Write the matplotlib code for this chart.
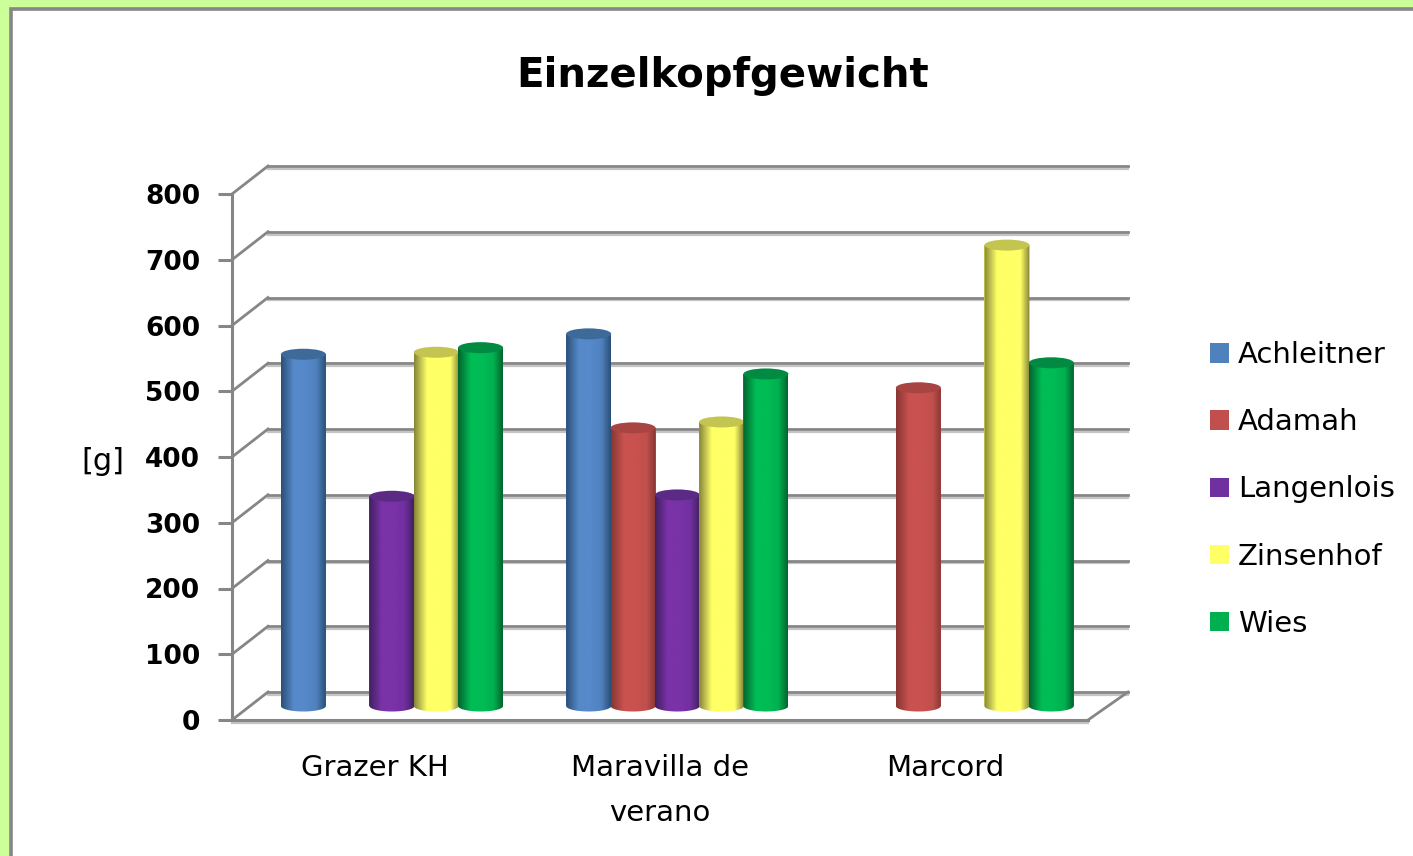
import numpy as np
import matplotlib
matplotlib.use("Agg")
import matplotlib.pyplot as plt
from matplotlib.colors import LinearSegmentedColormap
from matplotlib.patches import Ellipse, Polygon, Patch, Rectangle

# ---- data ----
categories = ["Grazer KH", "Maravilla de\nverano", "Marcord"]
series_names = ["Achleitner", "Adamah", "Langenlois", "Zinsenhof", "Wies"]
achleitner = [535, 566, np.nan]
adamah = [np.nan, 423, 484]
langenlois = [319, 321, np.nan]
zinsenhof = [538, 432, 701]
wies = [545, 505, 522]
y_ticks = [0, 100, 200, 300, 400, 500, 600, 700, 800]

series = [achleitner, adamah, langenlois, zinsenhof, wies]
legend_colors = ["#4F81BD", "#C0504D", "#7030A0", "#FFFF66", "#00B050"]
edge_colors = ["#2B5078", "#873634", "#43205F", "#86863A", "#04652F"]
top_colors = ["#3E6A9A", "#A84442", "#5A2A85", "#C4C450", "#008A42"]
mid_colors = ["#5689C9", "#C9524F", "#7A32A8", "#FFFF66", "#00BC55"]

W, H = 1413, 856
GRAY = "#868686"
SHADOW = "#C4C4C4"
fig = plt.figure(figsize=(W / 100, H / 100), dpi=100, facecolor="#CCFF99")
plt.rcParams["font.family"] = "DejaVu Sans"


def fx(px):
    return px / W


def fy(px):
    return 1 - px / H


# frame
fig.add_artist(Rectangle((fx(10.5), fy(900)), fx(1500), 900 / H - 9 / H,
                         transform=fig.transFigure, facecolor="white",
                         edgecolor=GRAY, linewidth=2.6, zorder=-5))

# axes = front plane of the 3D box
ax = fig.add_axes([fx(232), fy(720), fx(1088 - 232), 526 / H])
ax.patch.set_visible(False)
ax.set_xlim(0, 3)
ax.set_ylim(0, 800)

px_x = 3 / (1088 - 232)
px_y = 800 / 526
DX = 36 * px_x
DY = 28 * px_y

# back wall and side wall
for v in y_ticks:
    ax.plot([DX, 3 + 40 * px_x], [v + DY - 2.8 * px_y] * 2, color=SHADOW, lw=1.6, zorder=1, clip_on=False)
    ax.plot([DX, 3 + 40 * px_x], [v + DY] * 2, color=GRAY, lw=2.0, zorder=1.1, clip_on=False)
    ax.plot([0, DX], [v, v + DY], color=GRAY, lw=2.0, zorder=1.1, clip_on=False)
ax.plot([3, 3 + 40 * px_x], [0, DY], color=GRAY, lw=2.0, zorder=1.1, clip_on=False)
ax.plot([0, 3], [-3 * px_y] * 2, color=SHADOW, lw=1.6, zorder=1, clip_on=False)

# cylinders
bar_w = 45 * px_x
step = 44.3 * px_x
center_shift = 17.3 * px_x
ell_h = 11 * px_y
base = DY / 2
z = 3.0
for i, vals in enumerate(series):
    x = np.arange(len(categories)) + 0.5 + center_shift + (i - 2) * step
    cmap = LinearSegmentedColormap.from_list(
        "c", [(0, edge_colors[i]), (0.28, mid_colors[i]), (0.55, mid_colors[i]),
              (0.8, legend_colors[i]), (1, edge_colors[i])])
    bars = ax.bar(x, vals, width=bar_w, bottom=base, color=legend_colors[i], zorder=z, linewidth=0)
    for rect, v in zip(bars, vals):
        if np.isnan(v):
            continue
        z += 0.1
        x0 = rect.get_x()
        x1 = x0 + bar_w
        top = base + v
        t = np.linspace(0, np.pi, 40)
        lower_x = (x0 + x1) / 2 + np.cos(t) * bar_w / 2
        lower_y = base - np.sin(t) * ell_h / 2
        outline = np.vstack([[x0, top], [x1, top], np.column_stack([lower_x, lower_y])])
        clip = Polygon(outline, closed=True, transform=ax.transData)
        grad = np.linspace(0, 1, 64).reshape(1, -1)
        im = ax.imshow(grad, extent=(x0, x1, base - ell_h, top), cmap=cmap, aspect="auto",
                       zorder=z, interpolation="bilinear")
        im.set_clip_path(clip)
        ax.add_patch(Ellipse(((x0 + x1) / 2, top), bar_w, ell_h, facecolor=top_colors[i],
                             edgecolor="none", zorder=z + 0.01, clip_on=False))
ax.set_xlim(0, 3)
ax.set_ylim(0, 800)
ax.set_aspect("auto")

# axes styling
for s in ("top", "right"):
    ax.spines[s].set_visible(False)
for s in ("left", "bottom"):
    ax.spines[s].set_color(GRAY)
    ax.spines[s].set_linewidth(2.2)
    ax.spines[s].set_zorder(2)
ax.set_yticks(y_ticks)
ax.set_yticklabels([str(v) for v in y_ticks], fontsize=19, fontweight="bold")
ax.tick_params(axis="y", length=10, width=2.2, color=GRAY, pad=13, labelcolor="black")
ax.set_xticks(np.arange(len(categories)) + 0.5)
ax.set_xticklabels(categories, fontsize=21, linespacing=1.78)
ax.tick_params(axis="x", length=0, pad=24.5, labelcolor="black")

fig.text(fx(103), fy(462), "[g]", fontsize=22, ha="center", va="center", color="black")
fig.suptitle("Einzelkopfgewicht", x=fx(723), y=fy(76), va="center", ha="center",
             fontsize=29, fontweight="bold", color="black")

handles = [Patch(facecolor=c, edgecolor="none", label=n) for c, n in zip(legend_colors, series_names)]
ax.legend(handles=handles, loc="center left", bbox_to_anchor=(fx(1210), fy(489.5)),
          bbox_transform=fig.transFigure, frameon=False, fontsize=21, borderpad=0, borderaxespad=0,
          handlelength=0.65, handleheight=0.65, handletextpad=0.3, labelspacing=1.34)

fig.savefig("out.png", dpi=100, facecolor=fig.get_facecolor())
